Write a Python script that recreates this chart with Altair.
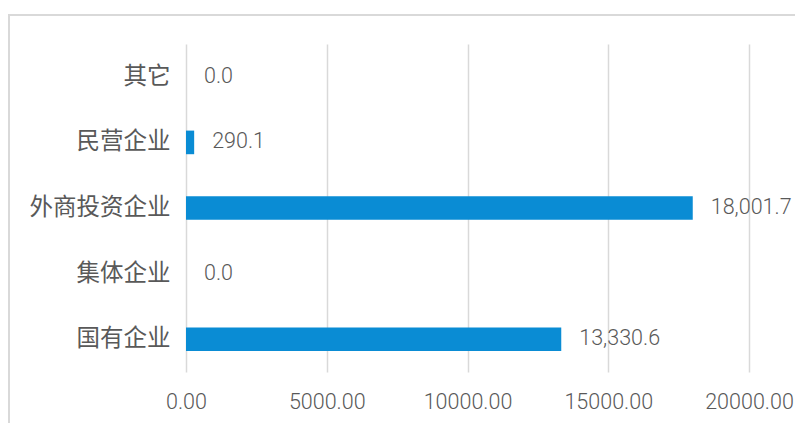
import altair as alt
import pandas as pd

categories = ["其它", "民营企业", "外商投资企业", "集体企业", "国有企业"]
values = [0.0, 290.1, 18001.7, 0.0, 13330.6]
ticks = [0, 5000, 10000, 15000, 20000]

df = pd.DataFrame({"cat": categories, "val": values})

CJK = "Noto Sans CJK SC"
NUM = "Roboto"
TXT = "#595959"

x = alt.X("val:Q", scale=alt.Scale(domain=[0, 20000], nice=False),
          axis=alt.Axis(values=ticks, format=".2f", title=None, domain=False, ticks=False,
                        grid=True, gridColor="#d9d9d9", gridWidth=1.5, labelFlush=False,
                        labelOverlap=False,
                        labelFont=NUM, labelFontSize=21.5, labelFontWeight=300,
                        labelColor=TXT, labelPadding=19))
y = alt.Y("cat:N", sort=categories, scale=alt.Scale(paddingInner=0.64, paddingOuter=0.32),
          axis=alt.Axis(title=None, domain=False, ticks=False, labelFont=CJK, labelFontSize=23.5,
                        labelColor=TXT, labelPadding=16))

bars = alt.Chart(df).mark_bar(color="#0A8CD4").encode(x=x, y=y)
labels = alt.Chart(df).mark_text(align="left", baseline="middle", dx=18, font=NUM,
                                 fontSize=21.5, fontWeight=300, color=TXT).encode(
    x="val:Q", y=alt.Y("cat:N", sort=categories), text=alt.Text("val:Q", format=",.1f"))

frame = alt.Chart(df).mark_rect(fill=None, stroke="#d9d9d9", strokeWidth=1.5).encode(
    x=alt.value(-177), x2=alt.value(700), y=alt.value(-29), y2=alt.value(500))

chart = alt.layer(frame, bars, labels).properties(
    width=563, height=328,
    padding={"left": 178, "top": 36, "right": 46, "bottom": 51},
    autosize=alt.AutoSizeParams(type="none"),
).configure_view(stroke=None)

chart.save("out.html", embed_options={"renderer": "svg", "actions": False})
